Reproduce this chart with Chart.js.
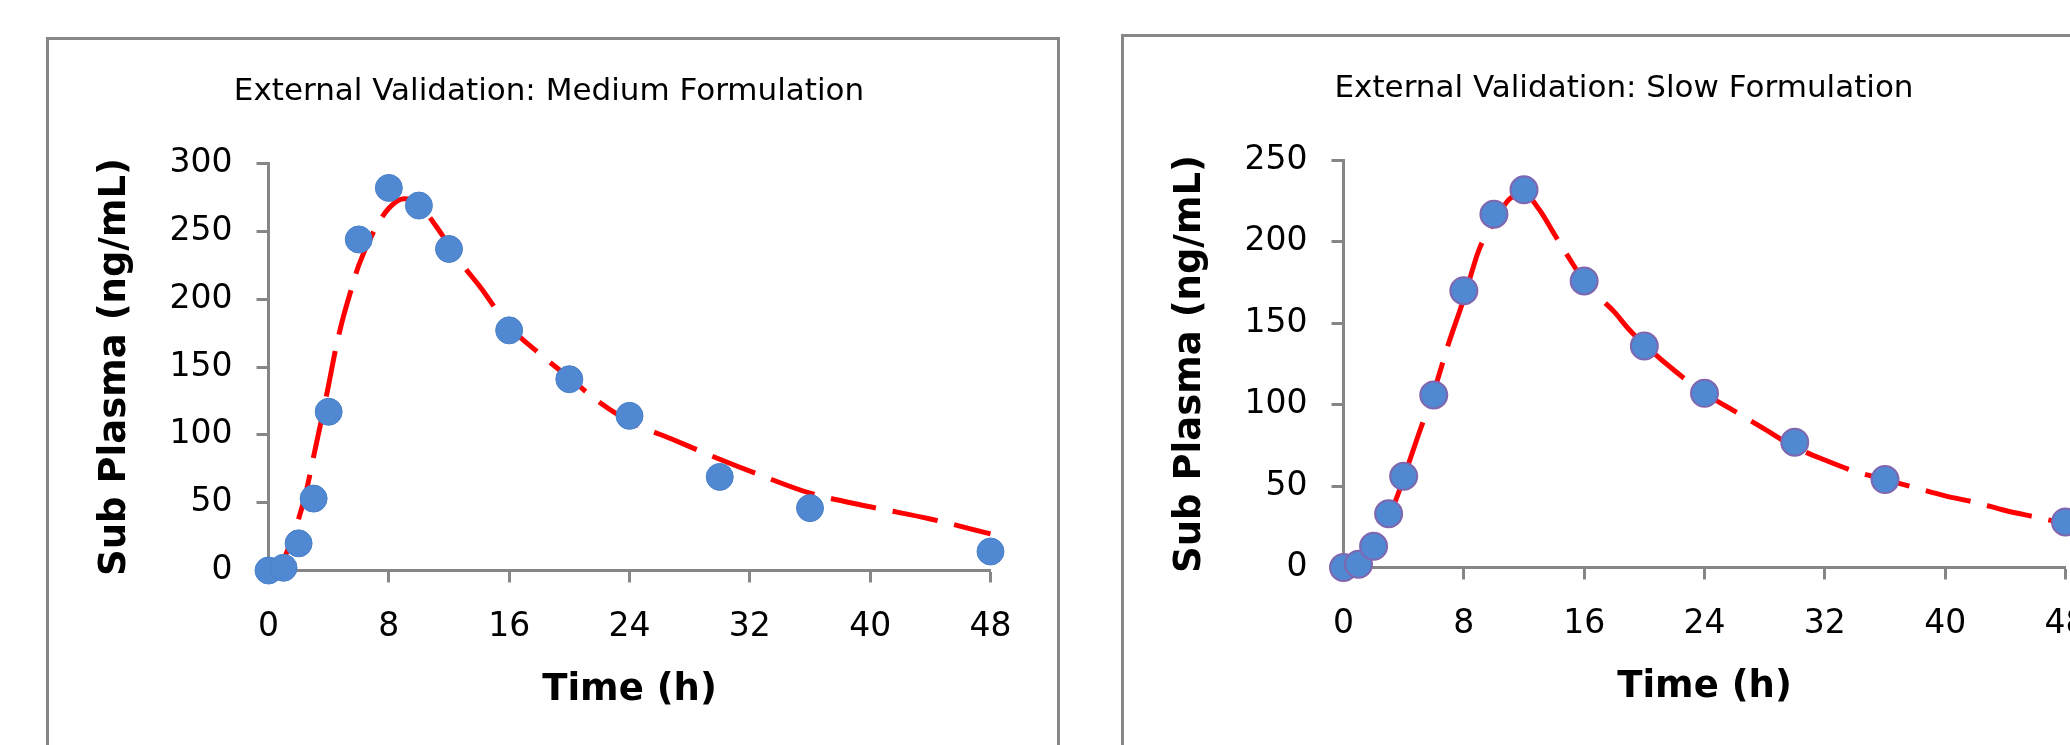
<!DOCTYPE html>
<html>
<head>
<meta charset="utf-8">
<script src="https://cdn.jsdelivr.net/npm/chart.js@4/dist/chart.umd.min.js"></script>
<style>
  html, body { margin: 0; padding: 0; background: #fff; overflow: hidden; width: 2070px; height: 745px; }
  .panel { position: absolute; border: 3px solid #878787; width: 1008px; height: 800px; background: #fff; }
  .panel canvas { position: absolute; left: 0; top: 0; }
</style>
</head>
<body>
<div class="panel" style="left:46px; top:37px;"><canvas id="medChart" width="1008" height="708"></canvas></div>
<div class="panel" style="left:1121px; top:34px;"><canvas id="slowChart" width="1008" height="708"></canvas></div>

<script>
// observed sampling times (h)
const obsTimes = [0, 1, 2, 3, 4, 6, 8, 10, 12, 16, 20, 24, 30, 36, 48];

// Medium formulation: observed and predicted plasma conc (ng/mL)
const obsMedium = [0, 2, 20, 53, 117, 244, 282, 269, 237, 177, 141, 114, 69, 46, 14];
const modelTimesMedium = [0, 0.5, 1, 1.5, 2, 2.5, 3, 3.5, 4, 4.5, 5, 5.5, 6, 7, 8, 9, 10, 11, 12, 13, 14,
  16, 18, 20, 22, 24, 27, 30, 33, 36, 40, 44, 48];
const modelMedium = [0, 1, 8, 22, 38, 58, 84, 110, 137, 165, 188, 207, 225, 250, 267, 274, 270, 256, 240, 224, 210,
  180, 160, 142, 124, 110, 96, 82, 69, 57, 47, 38, 27];

// Slow formulation
const obsSlow = [0, 2, 13, 33, 56, 106, 170, 217, 232, 176, 136, 107, 77, 54, 28];
const modelTimesSlow = [0, 0.5, 1, 1.5, 2, 2.5, 3, 3.5, 4, 5, 6, 7, 8, 9, 10, 11, 12, 13, 14, 15, 16, 17, 18, 19, 20,
  22, 24, 26, 28, 30, 32, 34, 36, 38, 40, 42, 44, 46, 48];
const modelSlow = [0, 0.5, 3, 7, 13, 22, 32, 42, 55, 82, 108, 138, 165, 195, 212, 226, 230, 220, 205, 190, 176, 166, 157, 146, 137,
  121, 107, 96, 85, 74, 66, 59, 54, 49, 44, 40, 35, 31, 27];

const xTicks = { min: 0, max: 48, step: 8 };

const AXIS_GREY = '#868686';

function pairs(xs, ys) {
  return xs.map((x, i) => ({ x: x, y: ys[i] }));
}

// draws the chart heading at a fixed spot, centred on the panel
const headingPlugin = {
  id: 'heading',
  afterDraw(chart, args, opts) {
    const ctx = chart.ctx;
    ctx.save();
    ctx.font = '31px "DejaVu Sans"';
    ctx.fillStyle = '#000';
    ctx.textAlign = 'center';
    ctx.textBaseline = 'middle';
    ctx.fillText(opts.text, 500, 52);
    ctx.restore();
  }
};

function makeChart(id, heading, obs, mTimes, model, yMax) {
  return new Chart(document.getElementById(id), {
    type: 'scatter',
    data: {
      datasets: [
        {
          label: 'Observed',
          data: pairs(obsTimes, obs),
          showLine: false,
          pointRadius: 13.5,
          pointBackgroundColor: '#5088D2',
          pointBorderColor: id === 'slowChart' ? '#8066AE' : '#4A80C8',
          pointBorderWidth: id === 'slowChart' ? 2 : 1,
          clip: false
        },
        {
          label: 'Predicted',
          data: pairs(mTimes, model),
          showLine: true,
          pointRadius: 0,
          borderColor: '#FF0000',
          borderWidth: 5,
          borderDash: [46, 17],
          borderCapStyle: 'butt',
          cubicInterpolationMode: 'monotone',
          fill: false,
          clip: false
        }
      ]
    },
    options: {
      responsive: false,
      animation: false,
      devicePixelRatio: 1,
      events: [],
      layout: { padding: { top: 123.5, right: 66.5, bottom: 0, left: 0 } },
      plugins: {
        legend: { display: false },
        tooltip: { enabled: false },
        heading: { text: heading }
      },
      scales: {
        x: {
          type: 'linear',
          min: xTicks.min,
          max: xTicks.max,
          afterFit(scale) { scale.height = 177.5; },
          ticks: {
            stepSize: xTicks.step,
            autoSkip: false,
            maxRotation: 0,
            color: '#000',
            padding: 25,
            font: { family: 'DejaVu Sans', size: 33 }
          },
          grid: { drawOnChartArea: false, drawTicks: true, tickLength: 12, tickWidth: 3, color: AXIS_GREY },
          border: { color: AXIS_GREY, width: 3 },
          title: {
            display: true,
            text: 'Time (h)',
            color: '#000',
            font: { family: 'DejaVu Sans', size: 37, weight: 'bold' },
            padding: { top: 0, bottom: 35 }
          }
        },
        y: {
          type: 'linear',
          min: 0,
          max: yMax,
          afterFit(scale) { scale.width = 219.5; },
          ticks: {
            stepSize: 50,
            color: '#000',
            padding: 24,
            font: { family: 'DejaVu Sans', size: 33 }
          },
          grid: { drawOnChartArea: false, drawTicks: true, tickLength: 12, tickWidth: 3, color: AXIS_GREY },
          border: { color: AXIS_GREY, width: 3 },
          title: {
            display: true,
            text: 'Sub Plasma (ng/mL)',
            color: '#000',
            font: { family: 'DejaVu Sans', size: 37, weight: 'bold' },
            padding: { top: 44, bottom: 0 }
          }
        }
      }
    },
    plugins: [headingPlugin]
  });
}

makeChart('medChart', 'External Validation: Medium Formulation', obsMedium, modelTimesMedium, modelMedium, 300);
makeChart('slowChart', 'External Validation: Slow Formulation', obsSlow, modelTimesSlow, modelSlow, 250);
</script>
</body>
</html>
